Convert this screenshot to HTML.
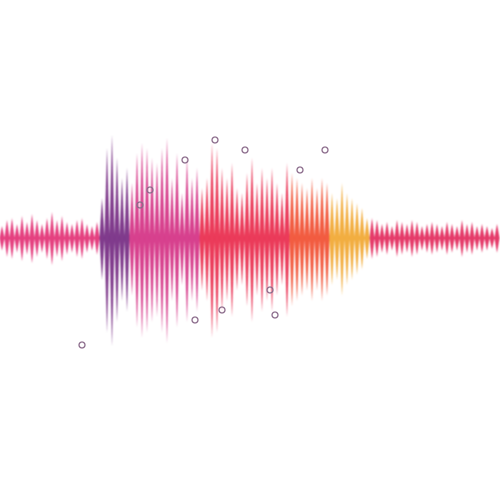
<!DOCTYPE html>
<html><head><meta charset="utf-8"><style>
html,body{margin:0;padding:0;background:#fff;width:500px;height:500px;overflow:hidden}
svg{display:block}
</style></head><body>
<svg id="wave" width="500" height="500" viewBox="0 0 500 500">
<defs><filter id="bl" x="-50%" y="-10%" width="200%" height="120%"><feGaussianBlur stdDeviation="0.9"/></filter></defs>
<g id="spikes" filter="url(#bl)"></g>
<g id="bubbles"></g>
</svg>
<script>
const amps = [12,18,20,14,22,16,24,18,14,20,26,18,22,16,14,18,20,14,12,16,
40,90,103,80,60,70,55,85,95,90,80,75,90,100,60,85,45,80,60,70,
50,60,95,90,70,60,75,50,45,65,80,55,70,60,70,55,45,75,65,60,
55,50,60,50,60,55,45,40,55,45,40,35,30,20,
20,18,14,16,12,18,16,14,18,16,12,14,16,14,12,16,14,12,18,14,16,12,14,12,10,14];
const bubbleX = [82,150,185,215,222,245,275,300,325,195,270,140];
const bubbleY = [345,190,160,140,310,150,315,170,150,320,290,205];
const ns='http://www.w3.org/2000/svg';
const cy=238, step=5;
function xPos(i){return i*step+2;}
function yTop(a){return cy-a;}
function yBot(a){return cy+a*1.05;}
function color(x){
  if(x<100) return '#e0206a';
  if(x<130) return '#6a1a78';
  if(x<200) return '#d0207a';
  if(x<290) return '#e8183c';
  if(x<330) return '#f04020';
  if(x<370) return '#f0a020';
  return '#e01850';
}
const g=document.getElementById('spikes');
amps.forEach((a,i)=>{
  const x=xPos(i), w=2.6;
  const p=document.createElementNS(ns,'polygon');
  
  
  p.setAttribute('points',`${x},${yTop(a)} ${x+w},${cy} ${x},${yBot(a)} ${x-w},${cy}`);
  p.setAttribute('fill',color(x));
  p.setAttribute('fill-opacity','0.85');
  g.appendChild(p);
});
const b=document.getElementById('bubbles');
bubbleX.forEach((x,i)=>{
  const c=document.createElementNS(ns,'circle');
  
  
  c.setAttribute('cx',x);c.setAttribute('cy',bubbleY[i]);c.setAttribute('r',3);
  c.setAttribute('fill','none');c.setAttribute('stroke','#8a6a8a');c.setAttribute('stroke-width','1.3');
  b.appendChild(c);
});
</script>
</body></html>
